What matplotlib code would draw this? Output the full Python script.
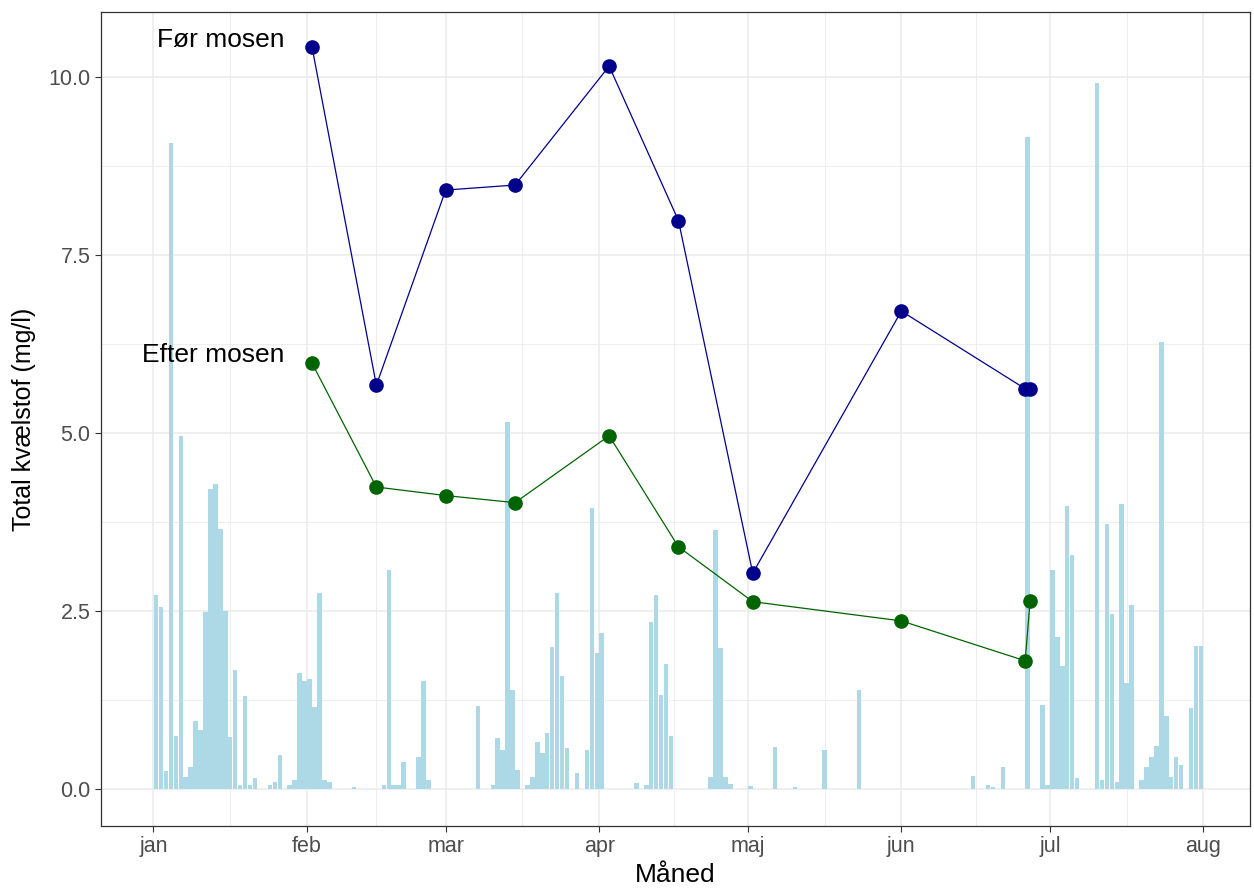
import numpy as np
import pandas as pd
import matplotlib
matplotlib.use("Agg")
import matplotlib.pyplot as plt

plt.rcParams['font.family'] = ['Liberation Sans', 'DejaVu Sans']

# daglig nedbør jan-jul 2019 (mm)
nedbor_jan = [2.72, 2.55, 0.25, 9.07, 0.75, 4.95, 0.17, 0.31, 0.95, 0.83,
              2.49, 4.21, 4.28, 3.65, 2.50, 0.73, 1.67, 0.05, 1.30, 0.05,
              0.15, 0, 0, 0.05, 0.10, 0.48, 0, 0.05, 0.13, 1.63, 1.52]
nedbor_feb = [1.55, 1.15, 2.75, 0.12, 0.10, 0, 0, 0, 0, 0.03,
              0, 0, 0, 0, 0, 0.05, 3.07, 0.05, 0.05, 0.38,
              0, 0, 0.45, 1.51, 0.12, 0, 0, 0]
nedbor_mar = [0, 0, 0, 0, 0, 0, 1.16, 0, 0, 0.05,
              0.72, 0.55, 5.15, 1.39, 0.27, 0, 0.05, 0.17, 0.66, 0.50,
              0.78, 2.00, 2.75, 1.58, 0.57, 0, 0.22, 0, 0.55, 3.95, 1.91]
nedbor_apr = [2.19, 0, 0, 0, 0, 0, 0, 0.08, 0, 0.05,
              2.35, 2.72, 1.32, 1.75, 0.75, 0, 0, 0, 0, 0,
              0, 0, 0.17, 3.64, 1.98, 0.17, 0.07, 0, 0, 0]
nedbor_maj = [0.04, 0, 0, 0, 0, 0.59, 0, 0, 0, 0.03,
              0, 0, 0, 0, 0, 0.55, 0, 0, 0, 0,
              0, 0, 1.39, 0, 0, 0, 0, 0, 0, 0, 0]
nedbor_jun = [0, 0, 0, 0, 0, 0, 0, 0, 0, 0,
              0, 0, 0, 0, 0.18, 0, 0, 0.06, 0.03, 0,
              0.31, 0, 0, 0, 0, 9.15, 0, 0, 1.18, 0.05]
nedbor_jul = [3.07, 2.14, 1.72, 3.97, 3.28, 0.15, 0, 0, 0, 9.92,
              0.12, 3.72, 2.46, 0.10, 4.00, 1.49, 2.58, 0, 0.12, 0.31,
              0.45, 0.60, 6.27, 1.02, 0.17, 0.45, 0.34, 0, 1.13, 2.01, 2.01]

nedbor = (nedbor_jan + nedbor_feb + nedbor_mar + nedbor_apr
          + nedbor_maj + nedbor_jun + nedbor_jul)
dage = pd.date_range('2019-01-01 12:00', periods=len(nedbor), freq='D')

# prøvetagninger, total kvælstof (mg/l)
prove_dato = pd.to_datetime(['2019-02-02', '2019-02-15', '2019-03-01',
                             '2019-03-15', '2019-04-03', '2019-04-17',
                             '2019-05-02', '2019-06-01', '2019-06-26',
                             '2019-06-27'])
for_mosen = [10.42, 5.67, 8.41, 8.48, 10.15, 7.98, 3.03, 6.71, 5.62, 5.62]
efter_mosen = [5.98, 4.24, 4.12, 4.02, 4.96, 3.40, 2.63, 2.36, 1.80, 2.64]

maaneder = ['jan', 'feb', 'mar', 'apr', 'maj', 'jun', 'jul', 'aug']

fig = plt.figure(figsize=(12.54, 8.9), dpi=100)
ax = fig.add_axes([101 / 1254, 1 - 826 / 890, 1149 / 1254, 814 / 890])

ax.bar(dage, nedbor, width=0.9, color='#ADD8E6', zorder=2)

ax.plot(prove_dato, for_mosen, color='#00008B', lw=0.9, zorder=3)
ax.plot(prove_dato, for_mosen, 'o', color='#00008B', ms=9.5, zorder=4)
ax.plot(prove_dato, efter_mosen, color='#006400', lw=0.9, zorder=3)
ax.plot(prove_dato, efter_mosen, 'o', color='#006400', ms=9.5, zorder=4)

ax.text(pd.Timestamp('2019-01-27 12:00'), 10.52, 'Før mosen', ha='right',
        va='center', fontsize=19)
ax.text(pd.Timestamp('2019-01-27 12:00'), 6.10, 'Efter mosen', ha='right',
        va='center', fontsize=19)

# akser
start = pd.Timestamp('2019-01-01')
ax.set_xlim(start - pd.Timedelta(days=10.6), start + pd.Timedelta(days=221.4))
ax.set_ylim(-0.52, 10.91)

maj_ticks = pd.date_range('2019-01-01', '2019-08-01', freq='MS')
min_ticks = maj_ticks[:-1] + (maj_ticks[1:] - maj_ticks[:-1]) / 2
ax.set_xticks(maj_ticks)
ax.set_xticklabels(maaneder)
ax.set_xticks(min_ticks, minor=True)
ax.set_yticks([0, 2.5, 5, 7.5, 10])
ax.set_yticklabels(['0.0', '2.5', '5.0', '7.5', '10.0'])
ax.set_yticks([1.25, 3.75, 6.25, 8.75], minor=True)

ax.grid(which='major', color='#EBEBEB', lw=1.1, zorder=0)
ax.grid(which='minor', color='#EBEBEB', lw=0.6, zorder=0)
ax.set_axisbelow(True)

ax.tick_params(which='major', length=4.5, width=0.8, color='#333333',
               labelsize=15.5, labelcolor='#4D4D4D', pad=3)
ax.tick_params(which='minor', length=0)
for s in ax.spines.values():
    s.set_color('#333333')
    s.set_linewidth(0.9)

ax.set_xlabel('Måned', fontsize=19, labelpad=4)
ax.set_ylabel('Total kvælstof (mg/l)', fontsize=18, labelpad=9)

fig.savefig('out.png', dpi=100)
